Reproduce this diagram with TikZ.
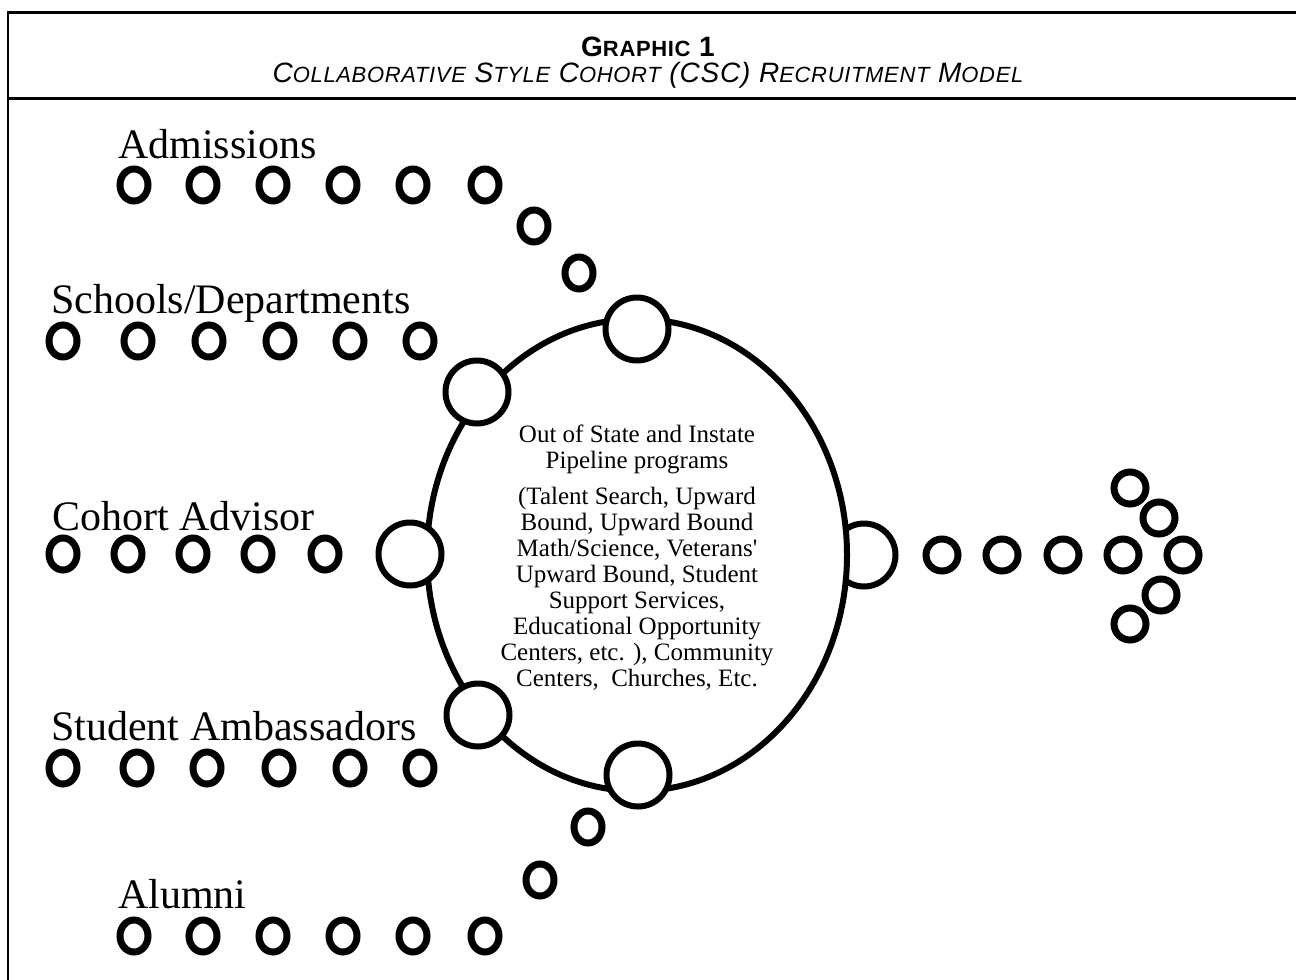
\documentclass[tikz,border=0pt]{standalone}
\usepackage{fontspec}
\setmainfont{Liberation Serif}
\newfontfamily\hdrfont[LetterSpace=3]{Liberation Sans}
\usetikzlibrary{shapes.geometric}
\newcommand\smc[1]{{\fontsize{22}{23}\selectfont #1}}
\tikzset{
  dot/.style={draw, line width=7pt, ellipse, minimum width=28pt, minimum height=32pt, inner sep=0pt, fill=white},
  ring/.style={draw, line width=7pt, circle, minimum size=32pt, inner sep=0pt, fill=white},
  port/.style={draw, line width=6pt, circle, minimum size=63pt, inner sep=0pt, fill=white},
  hubshape/.style={draw, line width=6pt, ellipse, minimum width=420pt, minimum height=472pt, inner sep=0pt, fill=white},
  lbl/.style={anchor=base west, inner sep=0pt, font=\fontsize{42}{48}\selectfont},
  hubtxt/.style={align=center, inner sep=0pt, font=\fontsize{25}{26}\selectfont},
  frame/.style={line width=3pt},
}
\begin{document}
\begin{tikzpicture}[x=1pt,y=-1pt]
\useasboundingbox (0,0) rectangle (1296,980);
% frame
\coordinate (tl) at (8,12);
\coordinate (tr) at (1296,12);
\coordinate (sl) at (8,98);
\coordinate (sr) at (1296,98);
\coordinate (bl) at (8,980);
\draw[frame] (tl) -- (tr);
\draw[frame] (sl) -- (sr);
\draw[line width=2.5pt] ([yshift=1.5pt]tl) -- (bl);
% header
\node[anchor=base, inner sep=0pt] (title) at (648,56)
  {\hdrfont\fontsize{28}{30}\selectfont\bfseries G\smc{RAPHIC} 1};
\node[anchor=base, inner sep=0pt] (subtitle) at (648,82)
  {\hdrfont\fontsize{28}{30}\selectfont\itshape C\smc{OLLABORATIVE} S\smc{TYLE} C\smc{OHORT} (CSC) R\smc{ECRUITMENT} M\smc{ODEL}};
% labels
\node[lbl] (admissions) at (118,158) {Admissions};
\node[lbl] (schools) at (51,313) {Schools/Departments};
\node[lbl] (advisor) at (52,530) {Cohort Advisor};
\node[lbl] (ambassadors) at (51,740) {Student Ambassadors};
\node[lbl] (alumni) at (118,908) {Alumni};
% rows
\foreach \x [count=\i] in {134,203,273,343,413,485} \node[dot] (adm\i) at (\x,185) {};
\node[dot] (adm7) at (534,226) {};
\node[dot] (adm8) at (579,273) {};
\foreach \x [count=\i] in {63,138,209,280,350,420} \node[dot] (sch\i) at (\x,341) {};
\foreach \x [count=\i] in {63,128,193,258,325} \node[dot] (adv\i) at (\x,554) {};
\foreach \x [count=\i] in {63,137,207,279,350,420} \node[dot] (amb\i) at (\x,768) {};
\foreach \x [count=\i] in {134,203,273,343,413,485} \node[dot] (alu\i) at (\x,936) {};
\node[dot] (alu7) at (540,880) {};
\node[dot] (alu8) at (588,827) {};
% hub
\node[port] (pright) at (864,555) {};
\node[hubshape] (hub) at (637,555) {};
\node[hubtxt] (hubtext) at (637,558) {Out of State and Instate\\
Pipeline programs\\[10pt]
(Talent Search, Upward\\
Bound, Upward Bound\\
Math/Science, Veterans\textquotesingle\\
Upward Bound, Student\\
Support Services,\\
Educational Opportunity\\
Centers, etc. ), Community\\
Centers,\ \ Churches, Etc.};
\node[port] (ptop) at (637,329) {};
\node[port] (pul) at (477,392) {};
\node[port] (pleft) at (410,554) {};
\node[port] (pll) at (478,715) {};
\node[port] (pbottom) at (638,775) {};
% outgoing arrow
\foreach \x [count=\i] in {942,1002,1063,1123,1183} \node[ring] (out\i) at (\x,555) {};
\node[ring] (tip1) at (1130,488) {};
\node[ring] (tip2) at (1159,518) {};
\node[ring] (tip3) at (1161,595) {};
\node[ring] (tip4) at (1130,624) {};
\end{tikzpicture}
\end{document}
